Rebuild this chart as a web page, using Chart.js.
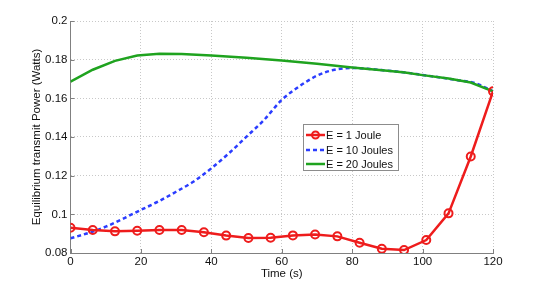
<!DOCTYPE html>
<html>
<head>
<meta charset="utf-8">
<script src="https://cdn.jsdelivr.net/npm/chart.js@4/dist/chart.umd.min.js"></script>
<style>
  html, body { margin: 0; padding: 0; background: #fff; }
  #wrap { position: relative; width: 545px; height: 285px; }
  #legend {
    position: absolute; left: 303px; top: 124px; width: 96px; height: 47px;
    background: #fff; border: 1px solid #8c8c8c; box-sizing: border-box;
    font: 11px "Liberation Sans", Arial, sans-serif; color: #111;
    padding-top: 3px;
  }
  #legend .row { display: flex; align-items: center; height: 14.5px; }
  #legend canvas { margin-left: 2px; margin-right: 1px; }
</style>
</head>
<body>
<div id="wrap">
  <canvas id="chart" width="545" height="285"></canvas>
  <div id="legend"></div>
</div>
<script>
// ---- data ----
const redTime = [0, 6.32, 12.63, 18.95, 25.26, 31.58, 37.89, 44.21, 50.53, 56.84,
                 63.16, 69.47, 75.79, 82.11, 88.42, 94.74, 101.05, 107.37, 113.68, 120];
const redPower = [0.0931, 0.0919, 0.0912, 0.0915, 0.0919, 0.0919, 0.0907, 0.0890, 0.0878, 0.0879,
                  0.0891, 0.0896, 0.0886, 0.0853, 0.0822, 0.0815, 0.0867, 0.1005, 0.1299, 0.1636];

const blueTime = [0, 5, 10, 15, 20, 25, 30, 35, 40, 45, 50, 55, 60, 65, 70, 75, 80,
                  85, 90, 95, 100, 105, 110, 115, 120];
const bluePower = [0.0876, 0.0903, 0.0936, 0.0978, 0.1023, 0.1067, 0.1117, 0.1170, 0.1238, 0.1316,
                   0.1402, 0.1489, 0.1592, 0.1662, 0.1717, 0.1748, 0.1757, 0.1752, 0.1743, 0.1734,
                   0.1721, 0.1708, 0.1694, 0.1678, 0.1636];

const greenTime = [0, 6.32, 12.63, 18.95, 25.26, 31.58, 40, 50, 60, 70, 80, 90, 95, 100, 107.37, 113.68, 120];
const greenPower = [0.1686, 0.1748, 0.1794, 0.1822, 0.1830, 0.1829, 0.1822, 0.1810, 0.1796, 0.1779,
                    0.1760, 0.1743, 0.1734, 0.1720, 0.1703, 0.1682, 0.1636];

const seriesLabels = ['E = 1 Joule', 'E = 10 Joules', 'E = 20 Joules'];
const xTicks = [0, 20, 40, 60, 80, 100, 120];
const yTicks = [0.08, 0.1, 0.12, 0.14, 0.16, 0.18, 0.2];

const RED = '#ee1c1c', BLUE = '#2b3dff', GREEN = '#1fa31f';
const FONT = { family: '"Liberation Sans", Arial, sans-serif', size: 11.5 };

const toPts = (xs, ys) => xs.map((x, i) => ({ x, y: ys[i] }));

// MATLAB-style inward tick marks on left and bottom axes
const innerTicks = {
  id: 'innerTicks',
  afterDatasetsDraw(chart) {
    const { ctx, chartArea: a, scales: { x, y } } = chart;
    ctx.save();
    ctx.strokeStyle = '#808080';
    ctx.lineWidth = 1;
    ctx.beginPath();
    xTicks.forEach(v => {
      const px = Math.round(x.getPixelForValue(v)) + 0.5;
      ctx.moveTo(px, a.bottom); ctx.lineTo(px, a.bottom - 4);
    });
    yTicks.forEach(v => {
      const py = Math.round(y.getPixelForValue(v)) + 0.5;
      ctx.moveTo(a.left, py); ctx.lineTo(a.left + 4, py);
    });
    ctx.stroke();
    ctx.restore();
  }
};

const chart = new Chart(document.getElementById('chart'), {
  type: 'line',
  data: {
    datasets: [
      { label: seriesLabels[0], data: toPts(redTime, redPower), borderColor: RED, borderWidth: 2.5,
        pointRadius: 4, pointBorderWidth: 2, pointBorderColor: RED, pointBackgroundColor: 'rgba(255,255,255,0)',
        order: 0 },
      { label: seriesLabels[1], data: toPts(blueTime, bluePower), borderColor: BLUE, borderWidth: 2.5,
        borderDash: [4, 3], pointRadius: 0, cubicInterpolationMode: 'monotone', order: 2 },
      { label: seriesLabels[2], data: toPts(greenTime, greenPower), borderColor: GREEN, borderWidth: 2.5,
        pointRadius: 0, order: 1 },
    ],
  },
  options: {
    responsive: false,
    animation: false,
    layout: { padding: { left: 0, right: 52, top: 21, bottom: 0 } },
    plugins: { legend: { display: false }, tooltip: { enabled: false } },
    scales: {
      x: {
        type: 'linear', min: 0, max: 120,
        afterBuildTicks: s => { s.ticks = xTicks.map(v => ({ value: v })); },
        afterFit: s => { s.height = 32; },
        ticks: { font: FONT, color: '#111', padding: 2, maxRotation: 0 },
        grid: { color: '#c8c8c8', drawTicks: false },
        border: { display: true, color: '#808080', width: 1, dash: [1, 2] },
        title: { display: true, text: 'Time (s)', font: FONT, color: '#111', padding: { top: 0, bottom: 4 } },
      },
      y: {
        type: 'linear', min: 0.08, max: 0.2,
        afterBuildTicks: s => { s.ticks = yTicks.map(v => ({ value: v })); },
        afterFit: s => { s.width = 70.5; },
        ticks: { font: FONT, color: '#111', padding: 3, callback: v => String(+v.toFixed(2)) },
        grid: { color: '#c8c8c8', drawTicks: false },
        border: { display: true, color: '#808080', width: 1, dash: [1, 2] },
        title: { display: true, text: 'Equilibrium transmit Power (Watts)', font: FONT, color: '#111',
                 padding: { top: 30, bottom: 0 } },
      },
    },
  },
  plugins: [innerTicks],
});

// legend box inside the plot, built from the datasets
const legendEl = document.getElementById('legend');
chart.data.datasets.forEach(ds => {
  const row = document.createElement('div');
  row.className = 'row';
  const c = document.createElement('canvas');
  c.width = 19; c.height = 10;
  const g = c.getContext('2d');
  g.strokeStyle = ds.borderColor; g.lineWidth = 2.5;
  g.setLineDash(ds.borderDash || []);
  g.beginPath(); g.moveTo(0, 5); g.lineTo(19, 5); g.stroke();
  if (ds.pointRadius) {
    g.setLineDash([]); g.lineWidth = 2;
    g.beginPath(); g.arc(9.5, 5, 3.5, 0, Math.PI * 2); g.stroke();
  }
  const t = document.createElement('span');
  t.textContent = ds.label;
  row.append(c, t);
  legendEl.appendChild(row);
});
</script>
</body>
</html>
